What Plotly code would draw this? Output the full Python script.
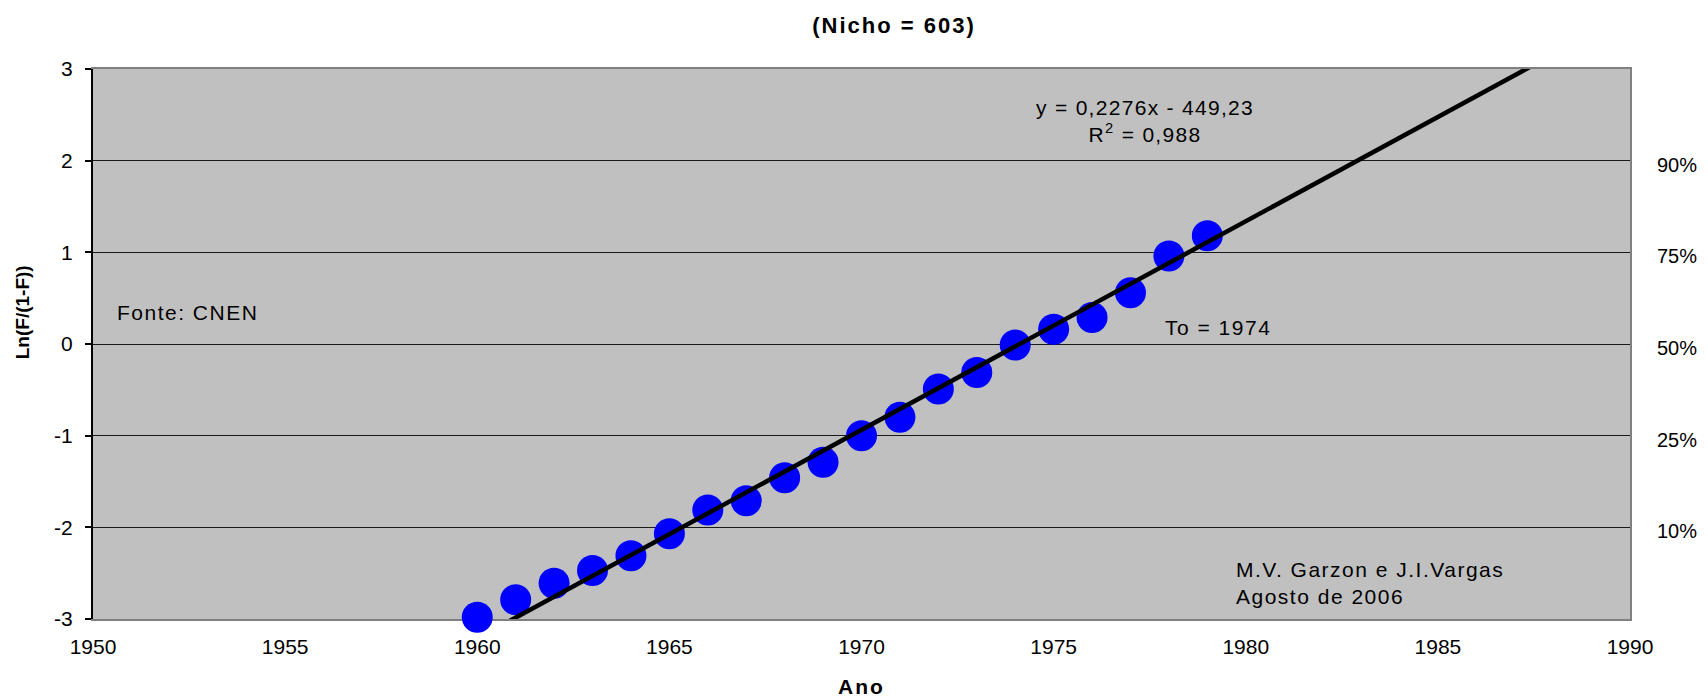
import numpy as np
import plotly.graph_objects as go

# dados (Nicho = 603)
anos = [1960, 1961, 1962, 1963, 1964, 1965, 1966, 1967, 1968, 1969,
        1970, 1971, 1972, 1973, 1974, 1975, 1976, 1977, 1978, 1979]
ln_f = [-2.98, -2.79, -2.61, -2.47, -2.31, -2.07, -1.81, -1.71, -1.46, -1.29,
        -1.00, -0.80, -0.49, -0.31, -0.01, 0.16, 0.29, 0.56, 0.96, 1.18]

# linha de tendencia do Excel: y = 0,2276x - 449,23 (inclinacao sem arredondar ~0,22756)
inclinacao = 0.22756
intercepto = -449.23
tend_x = [1950, 1990]

x_ticks = [1950, 1955, 1960, 1965, 1970, 1975, 1980, 1985, 1990]
y_ticks = [-3, -2, -1, 0, 1, 2, 3]
y_txt = ['-3', '-2', '-1', '0', '1', '2', '3']
pct_pos = [2, 1, 0, -1, -2]
pct_txt = ['90%', '75%', '50%', '25%', '10%']

FONT = 'Liberation Sans, Arial, sans-serif'
OFF = 8  # margem padrao do <body> na pagina


def sp(txt, ls):
    return '<span style="letter-spacing:%spx">%s</span>' % (ls, txt)


tend_y = [inclinacao * x + intercepto for x in tend_x]

fig = go.Figure()
fig.add_trace(go.Scatter(x=anos, y=ln_f, mode='markers', cliponaxis=False,
                         marker=dict(color='#0000FF', size=31, line=dict(width=0)),
                         showlegend=False, hoverinfo='x+y'))
fig.add_trace(go.Scatter(x=tend_x, y=tend_y, mode='lines', yaxis='y2',
                         line=dict(color='black', width=4.5), showlegend=False))

fig.update_layout(
    width=1708, height=697,
    margin=dict(l=93 - OFF, r=78 + OFF, t=69 - OFF, b=78 + OFF),
    paper_bgcolor='white', plot_bgcolor='#C0C0C0',
    font=dict(family=FONT, size=21, color='black'),
    title=dict(text=sp('(Nicho = 603)', 2), x=(894 - OFF) / 1708, xref='container',
               xanchor='center', y=1 - (25 - OFF) / 697, yref='container', yanchor='middle',
               font=dict(size=22, weight='bold')),
    xaxis=dict(range=[1950, 1990], tickvals=x_ticks, showgrid=False, zeroline=False,
               showline=True, mirror=True, linecolor='#808080', linewidth=2,
               ticks='', ticklabelstandoff=8, layer='below traces',
               tickfont=dict(size=21)),
    yaxis=dict(range=[-3, 3], tickvals=y_ticks, ticktext=y_txt, showgrid=True,
               gridcolor='#1a1a1a', gridwidth=1, zeroline=False, showline=True,
               linecolor='black', linewidth=2, ticks='outside', ticklen=6, tickwidth=1.5,
               tickcolor='black', ticklabelstandoff=8, tickfont=dict(size=21)),
    yaxis2=dict(overlaying='y', side='right', range=[-3, 3], tickvals=pct_pos, ticktext=pct_txt,
                showgrid=False, zeroline=False, showline=True, linecolor='#808080', linewidth=2,
                ticks='', ticklabelstandoff=21, ticklabelshift=4, tickfont=dict(size=20)),
)

anot = dict(xref='paper', yref='paper', showarrow=False, font=dict(size=21))
fig.add_annotation(text=sp('y = 0,2276x - 449,23<br>R<sup>2</sup> = 0,988', 1.3),
                   x=0.6847, y=0.9051, xanchor='center', yanchor='middle', align='center', **anot)
fig.add_annotation(text=sp('To = 1974', 1.5), x=0.7317, y=0.5308,
                   xanchor='center', yanchor='middle', **anot)
fig.add_annotation(text=sp('Fonte: CNEN', 1.5), x=0.0141, y=0.5566,
                   xanchor='left', yanchor='middle', **anot)
fig.add_annotation(text=sp('M.V. Garzon e J.I.Vargas<br>Agosto de 2006', 1.5), x=0.7424, y=0.0662,
                   xanchor='left', yanchor='middle', align='left', **anot)
# titulos dos eixos
fig.add_annotation(text='<b>Ln(F/(1-F))</b>', x=-0.0453, y=0.5584, textangle=-90,
                   xanchor='center', yanchor='middle', xref='paper', yref='paper',
                   showarrow=False, font=dict(size=19))
fig.add_annotation(text='<b>' + sp('Ano', 2) + '</b>', x=0.5001, y=-0.1233,
                   xanchor='center', yanchor='middle', xref='paper', yref='paper',
                   showarrow=False, font=dict(size=21))

fig.write_html("out.html")
